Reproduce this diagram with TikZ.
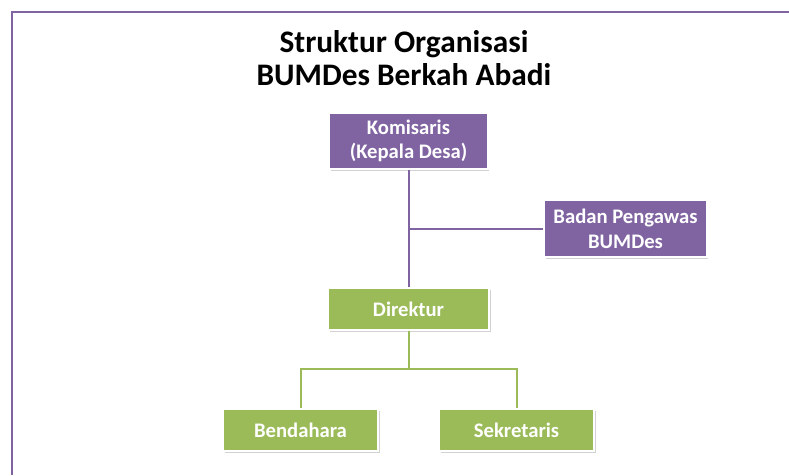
\documentclass[tikz,border=0pt]{standalone}
\usepackage{fontspec}
\setmainfont{Carlito}
\usetikzlibrary{shadows}

\definecolor{ungu}{HTML}{8064A2}
\definecolor{hijau}{HTML}{9BBB59}

\begin{document}
\begin{tikzpicture}[x=0.75pt,y=-0.75pt,
  kotak/.style={draw=white,line width=1.2pt,text=white,align=center,
    font=\fontsize{15.5}{18.5}\selectfont\bfseries,inner sep=0pt,
    drop shadow={shadow xshift=1.2pt,shadow yshift=-1.2pt,opacity=0.35,fill=gray}},
  kotakungu/.style={kotak,fill=ungu},
  kotakhijau/.style={kotak,fill=hijau},
  garisungu/.style={draw=ungu,line width=1.5pt},
  garishijau/.style={draw=hijau,line width=1.5pt}]
\useasboundingbox (0,0) rectangle (789,475);
\fill[white] (0,0) rectangle (789,475);
\draw[ungu,line width=2pt] (789,12) -- (12,12) -- (12,475);

\node[align=center,font=\fontsize{23.5}{24.75}\selectfont\bfseries] (judul) at (404,58)
  {Struktur Organisasi\\BUMDes Berkah Abadi};

\node[kotakungu,minimum width=119pt,minimum height=42pt] (komisaris) at (408.5,141)
  {Komisaris\\(Kepala Desa)};
\node[kotakungu,minimum width=122pt,minimum height=42.75pt] (pengawas) at (625.5,228.5)
  {Badan Pengawas\\BUMDes};
\node[kotakhijau,minimum width=120.75pt,minimum height=31.5pt] (direktur) at (408.5,309)
  {Direktur};
\node[kotakhijau,minimum width=116.25pt,minimum height=31.5pt] (bendahara) at (300.5,430)
  {Bendahara};
\node[kotakhijau,minimum width=116.25pt,minimum height=31.5pt] (sekretaris) at (516.5,430)
  {Sekretaris};

\coordinate (cabang) at (408.5,369);

\draw[garisungu] (komisaris.south) -- (direktur.north);
\draw[garisungu] (pengawas.west) -- (pengawas.west -| komisaris.south);
\draw[garishijau] (direktur.south) -- (cabang);
\draw[garishijau] (cabang) -| (bendahara.north);
\draw[garishijau] (cabang) -| (sekretaris.north);
\end{tikzpicture}
\end{document}
